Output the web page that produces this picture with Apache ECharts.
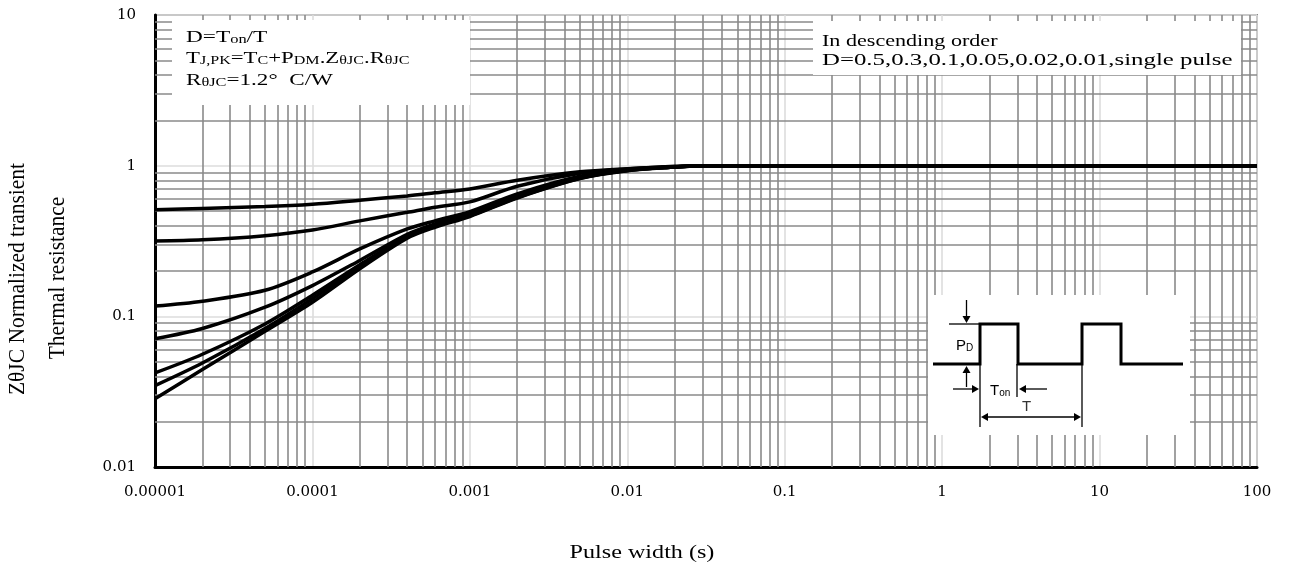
<!DOCTYPE html>
<html>
<head>
<meta charset="utf-8">
<script src="https://cdn.jsdelivr.net/npm/echarts@6/dist/echarts.min.js"></script>
<style>
html,body{margin:0;padding:0;background:#fff;}
#chart{width:1291px;height:567px;}
</style>
</head>
<body>
<div id="chart"></div>
<script>
// ---- data ----
const pulseWidth = [1e-5, 2e-5, 5e-5, 1e-4, 2e-4, 4e-4, 6e-4, 1e-3, 2e-3, 5e-3, 1e-2, 2e-2, 3e-2, 5e-2, 1e-1, 1, 10, 100];
const zD05   = [0.51, 0.52, 0.535, 0.555, 0.59, 0.63, 0.66, 0.70, 0.80, 0.91, 0.955, 0.99, 1.0, 1.0, 1.0, 1.0, 1.0, 1.0];
const zD03   = [0.316, 0.322, 0.343, 0.374, 0.43, 0.49, 0.53, 0.575, 0.73, 0.89, 0.95, 0.985, 1.0, 1.0, 1.0, 1.0, 1.0, 1.0];
const zD01   = [0.117, 0.126, 0.149, 0.197, 0.28, 0.38, 0.43, 0.495, 0.65, 0.85, 0.94, 0.98, 1.0, 1.0, 1.0, 1.0, 1.0, 1.0];
const zD005  = [0.071, 0.083, 0.115, 0.16, 0.235, 0.35, 0.41, 0.48, 0.635, 0.84, 0.935, 0.98, 1.0, 1.0, 1.0, 1.0, 1.0, 1.0];
const zD002  = [0.0421, 0.056, 0.089, 0.138, 0.22, 0.34, 0.40, 0.47, 0.625, 0.83, 0.93, 0.98, 1.0, 1.0, 1.0, 1.0, 1.0, 1.0];
const zD001  = [0.0347, 0.049, 0.083, 0.131, 0.213, 0.335, 0.395, 0.465, 0.615, 0.825, 0.93, 0.98, 1.0, 1.0, 1.0, 1.0, 1.0, 1.0];
const zSingle= [0.0284, 0.0443, 0.0795, 0.124, 0.207, 0.33, 0.39, 0.46, 0.61, 0.82, 0.925, 0.978, 1.0, 1.0, 1.0, 1.0, 1.0, 1.0];
const seriesNames = ['D=0.5','D=0.3','D=0.1','D=0.05','D=0.02','D=0.01','single pulse'];
const seriesValues = [zD05, zD03, zD01, zD005, zD002, zD001, zSingle];

const xTickValues = [1e-5, 1e-4, 1e-3, 1e-2, 1e-1, 1, 10, 100];
const xTickLabels = ['0.00001','0.0001','0.001','0.01','0.1','1','10','100'];
const yTickValues = [0.01, 0.1, 1, 10];
const yTickLabels = ['0.01','0.1','1','10'];

function fmt(values, labels){
  return function(v){
    const i = values.findIndex(t => Math.abs(Math.log10(t) - Math.log10(v)) < 1e-6);
    return i >= 0 ? labels[i] : '';
  };
}

// minor grid (2..9 in each decade)
const xMinor = [], yMinor = [];
for (let e = -5; e < 2; e++) for (let k = 2; k <= 9; k++) xMinor.push(k * Math.pow(10, e));
for (let e = -2; e < 1; e++) for (let k = 2; k <= 9; k++) yMinor.push(k * Math.pow(10, e));

const serif = '"Liberation Serif", "Times New Roman", serif';
const tickFont = '"DejaVu Serif", serif';
const sans = '"Liberation Sans", Arial, sans-serif';

const chart = echarts.init(document.getElementById('chart'));

const series = seriesValues.map((vals, i) => ({
  name: seriesNames[i],
  type: 'line',
  data: pulseWidth.map((x, j) => [x, vals[j]]),
  showSymbol: false,
  smooth: 0.3,
  lineStyle: {color: '#000', width: 3.5},
  z: 5,
  silent: true
}));

series.unshift({
  type: 'line',
  data: [],
  silent: true,
  z: 1,
  markLine: {
    silent: true,
    precision: 12,
    symbol: ['none','none'],
    animation: false,
    label: {show: false},
    lineStyle: {color: '#8a8a8a', width: 1.6, type: 'solid'},
    emphasis: {disabled: true},
    data: xMinor.map(v => ({xAxis: v})).concat(yMinor.map(v => ({yAxis: v})))
  }
});

const subStyle = {fontFamily: serif, fontSize: 12, color: '#000', verticalAlign: 'bottom'};
const mainStyle = {fontFamily: serif, fontSize: 17, color: '#000', verticalAlign: 'bottom'};
const richT = {s: subStyle, m: mainStyle};
const richInset = {
  p: {fontFamily: sans, fontSize: 15, color: '#333', verticalAlign: 'bottom'},
  d: {fontFamily: sans, fontSize: 10, color: '#333', verticalAlign: 'bottom'}
};

function arrowHead(tip, dir, size){
  const [x, y] = tip; const s = size || 7; const w = 4;
  if (dir === 'down') return [[x - w, y - s],[x + w, y - s],[x, y]];
  if (dir === 'up') return [[x - w, y + s],[x + w, y + s],[x, y]];
  if (dir === 'right') return [[x - s, y - w],[x - s, y + w],[x, y]];
  return [[x + s, y - w],[x + s, y + w],[x, y]];
}
function line(x1,y1,x2,y2,w){
  return {type:'line', shape:{x1,y1,x2,y2}, style:{stroke:'#000', lineWidth:w||1.3}, z:101};
}
function head(tip, dir){
  return {type:'polygon', shape:{points: arrowHead(tip, dir)}, style:{fill:'#000'}, z:101};
}

const graphics = [
  // top-left box
  {type:'rect', shape:{x:172, y:20, width:298, height:85}, style:{fill:'#fff'}, z:100},
  {type:'text', x:186, y:46, scaleX:1.37, style:{text:'{m|D=T}{s|on}{m|/T}', rich: richT, textVerticalAlign:'bottom'}, z:101},
  {type:'text', x:186, y:67, scaleX:1.34, style:{text:'{m|T}{s|J,PK}{m|=T}{s|C}{m|+P}{s|DM}{m|.Z}{s|θJC}{m|.R}{s|θJC}', rich: richT, textVerticalAlign:'bottom'}, z:101},
  {type:'text', x:186, y:89, scaleX:1.36, style:{text:'{m|R}{s|θJC}{m|=1.2°  C/W}', rich: richT, textVerticalAlign:'bottom'}, z:101},
  // top-right box
  {type:'rect', shape:{x:813, y:21, width:428, height:54}, style:{fill:'#fff'}, z:100},
  {type:'text', x:822, y:42, scaleX:1.3, style:{text:'In descending order', font:'17px ' + serif, fill:'#000', textVerticalAlign:'middle'}, z:101},
  {type:'text', x:822, y:61, scaleX:1.46, style:{text:'D=0.5,0.3,0.1,0.05,0.02,0.01,single pulse', font:'17px ' + serif, fill:'#000', textVerticalAlign:'middle'}, z:101},
  // inset box
  {type:'rect', shape:{x:928, y:295, width:262, height:140}, style:{fill:'#fff'}, z:100},
  {type:'polyline', shape:{points:[[933,364],[980,364],[980,324],[1018,324],[1018,364],[1082,364],[1082,324],[1121,324],[1121,364],[1183,364]]}, style:{stroke:'#000', lineWidth:3, fill:null}, z:101},
  line(949,324,980,324),
  line(966.5,300,966.5,318), head([966.5,323],'down'),
  line(966.5,387,966.5,371), head([966.5,366],'up'),
  line(953,389,973,389), head([979,389],'right'),
  line(980,364,980,427),
  line(1017,364,1017,397),
  line(1047,389,1025,389), head([1019,389],'left'),
  line(986,417,1076,417), head([981,417],'left'), head([1081,417],'right'),
  line(1082,364,1082,427),
  {type:'text', x:956, y:353, style:{text:'{p|P}{d|D}', rich: richInset, textVerticalAlign:'bottom'}, z:101},
  {type:'text', x:990, y:398, style:{text:'{p|T}{d|on}', rich: richInset, textVerticalAlign:'bottom'}, z:101},
  {type:'text', x:1022, y:407, style:{text:'T', font:'15px ' + sans, fill:'#333', textVerticalAlign:'middle'}, z:101},
  // axis titles
  {type:'text', x:18, y:279, rotation:Math.PI/2, scaleX:1.13, scaleY:1.18, style:{text:'ZθJC Normalized transient', font:'19px ' + serif, fill:'#000', textAlign:'center', textVerticalAlign:'middle'}, z:101},
  {type:'text', x:58, y:278, rotation:Math.PI/2, scaleX:1.13, scaleY:1.18, style:{text:'Thermal resistance', font:'19px ' + serif, fill:'#000', textAlign:'center', textVerticalAlign:'middle'}, z:101},
  {type:'text', x:642, y:553, scaleX:1.27, style:{text:'Pulse width (s)', font:'19px ' + serif, fill:'#000', textAlign:'center', textVerticalAlign:'middle'}, z:101}
];

chart.setOption({
  animation: false,
  backgroundColor: '#fff',
  grid: {left:155, right:34, top:15, bottom:100, show:true, borderColor:'#8a8a8a', borderWidth:2, backgroundColor:'transparent'},
  xAxis: {
    type: 'log', logBase: 10, min: 1e-5, max: 100,
    axisLine: {show:true, onZero:false, lineStyle:{color:'#000', width:3}},
    axisTick: {show:false},
    axisLabel: {color:'#000', fontFamily: tickFont, fontSize:15, margin:18, formatter: fmt(xTickValues, xTickLabels)},
    splitLine: {show:true, lineStyle:{color:'#dcdcdc', width:1.6}},
    minorTick: {show:false},
    minorSplitLine: {show:false}
  },
  yAxis: {
    type: 'log', logBase: 10, min: 0.01, max: 10,
    axisLine: {show:true, onZero:false, lineStyle:{color:'#000', width:3}},
    axisTick: {show:false},
    axisLabel: {color:'#000', fontFamily: tickFont, fontSize:15, margin:19, formatter: fmt(yTickValues, yTickLabels)},
    splitLine: {show:true, lineStyle:{color:'#dcdcdc', width:1.6}}
  },
  series: series,
  graphic: graphics
});
</script>
</body>
</html>
